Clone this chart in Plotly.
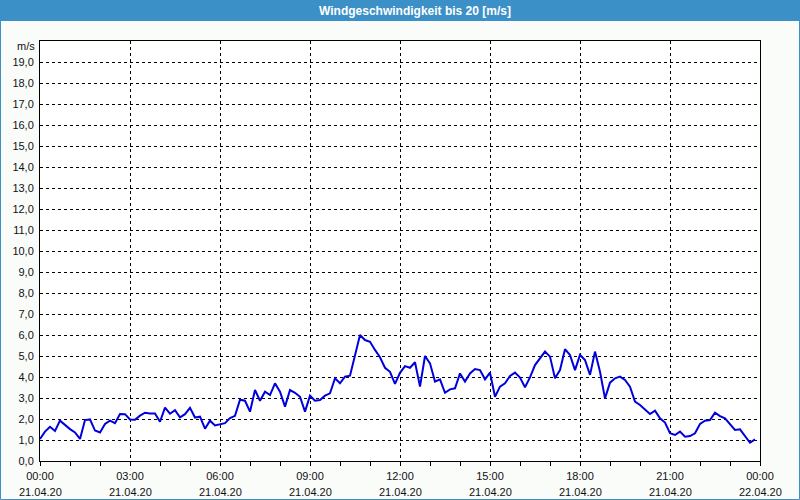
import pandas as pd
import plotly.graph_objects as go

# ---- data (10-minute values, 21.04.20 00:00 .. 23:50) ----
speed = [
    1.05, 1.40, 1.63, 1.43, 1.92, 1.70, 1.52, 1.36, 1.05, 1.95,
    1.98, 1.45, 1.36, 1.76, 1.92, 1.80, 2.24, 2.23, 1.98, 1.96,
    2.16, 2.30, 2.26, 2.26, 1.87, 2.54, 2.25, 2.42, 2.08, 2.23,
    2.53, 2.07, 2.11, 1.54, 1.92, 1.69, 1.76, 1.80, 2.04, 2.15,
    2.92, 2.87, 2.35, 3.38, 2.87, 3.30, 3.14, 3.70, 3.30, 2.59,
    3.38, 3.25, 3.06, 2.35, 3.11, 2.87, 2.90, 3.11, 3.22, 3.94,
    3.70, 4.02, 4.06, 5.05, 6.00, 5.76, 5.68, 5.29, 4.94, 4.44,
    4.25, 3.67, 4.20, 4.52, 4.44, 4.70, 3.54, 5.00, 4.65, 3.78,
    3.89, 3.25, 3.41, 3.46, 4.17, 3.78, 4.17, 4.38, 4.33, 3.89,
    4.21, 3.06, 3.54, 3.70, 4.05, 4.21, 3.97, 3.51, 3.98, 4.57,
    4.89, 5.21, 4.97, 3.94, 4.33, 5.32, 5.05, 4.33, 5.05, 4.81,
    4.10, 5.21, 4.25, 2.98, 3.73, 3.94, 4.02, 3.86, 3.54, 2.83,
    2.67, 2.43, 2.24, 2.40, 2.03, 1.83, 1.32, 1.24, 1.40, 1.16,
    1.19, 1.32, 1.76, 1.92, 1.95, 2.30, 2.14, 2.03, 1.76, 1.48,
    1.51, 1.16, 0.87, 1.03,
]
times = pd.date_range("2020-04-21 00:00", periods=len(speed), freq="10min")

tick_times = pd.date_range("2020-04-21 00:00", "2020-04-22 00:00", freq="3h")
tick_hours = ["00:00", "03:00", "06:00", "09:00", "12:00", "15:00", "18:00", "21:00", "00:00"]
tick_dates = ["21.04.20"] * 8 + ["22.04.20"]
y_ticks = list(range(0, 20))

title_text = "Windgeschwindigkeit bis 20 [m/s]"
unit_text = "m/s"

FONT = "Liberation Sans"
BLUE = "#3c90c8"

fig = go.Figure()
fig.add_trace(go.Scatter(
    x=times, y=speed, mode="lines",
    line=dict(color="#0000dd", width=2),
    hoverinfo="skip", showlegend=False,
))

W, H = 800, 500
L, R, T, B = 40, 40, 41, 39
pw, ph = W - L - R, H - T - B


def px_x(px):
    return (px - L) / pw


def px_y(py):
    return (H - B - py) / ph


fig.update_layout(
    width=W, height=H,
    margin=dict(l=L, r=R, t=T, b=B, pad=0),
    paper_bgcolor="#fafcfa",
    plot_bgcolor="#ffffff",
    separators=",.",
    font=dict(family=FONT, size=11, color="#111111"),
    showlegend=False,
)

fig.update_xaxes(
    range=[tick_times[0], tick_times[-1]],
    tickvals=tick_times, ticktext=tick_hours,
    ticks="outside", ticklen=4, tickcolor="black", tickwidth=1,
    minor=dict(dtick=3600000, ticks="outside", ticklen=4, tickcolor="black", showgrid=False),
    showgrid=True, gridcolor="black", gridwidth=1, griddash="3px,3px",
    showline=True, linecolor="black", linewidth=1, mirror=True,
    zeroline=False, tickfont=dict(family=FONT, size=11, color="#111111"),
    ticklabelstandoff=1,
)
fig.update_yaxes(
    range=[0, 20], tickvals=y_ticks, tickformat=".1f",
    ticks="", showgrid=True, gridcolor="black", gridwidth=1, griddash="3px,3px",
    showline=True, linecolor="black", linewidth=1, mirror=True,
    zeroline=False, tickfont=dict(family=FONT, size=11, color="#111111"),
    ticklabelstandoff=3,
)

# second row of x labels (dates)
for t, d in zip(tick_times, tick_dates):
    fig.add_annotation(
        x=t, xref="x", y=px_y(492), yref="paper",
        text=d, showarrow=False, xanchor="center", yanchor="middle",
        font=dict(family=FONT, size=11, color="#111111"),
    )

# unit label
fig.add_annotation(
    x=px_x(37), xref="paper", y=px_y(46), yref="paper",
    text=unit_text, showarrow=False, xanchor="right", yanchor="middle",
    font=dict(family=FONT, size=11, color="#111111"),
)

# title bar and outer frame
fig.add_shape(type="rect", xref="paper", yref="paper",
              x0=px_x(0), x1=px_x(800), y0=px_y(21), y1=px_y(0),
              fillcolor=BLUE, line=dict(width=0), layer="below")
fig.add_shape(type="rect", xref="paper", yref="paper",
              x0=px_x(0.5), x1=px_x(799.5), y0=px_y(499.5), y1=px_y(0.5),
              fillcolor="rgba(0,0,0,0)", line=dict(color=BLUE, width=1), layer="above")
fig.add_annotation(
    x=px_x(415), xref="paper", y=px_y(10.5), yref="paper",
    text="<b>" + title_text + "</b>", showarrow=False,
    xanchor="center", yanchor="middle",
    font=dict(family=FONT, size=12, color="white"),
)

fig.write_html("out.html")
